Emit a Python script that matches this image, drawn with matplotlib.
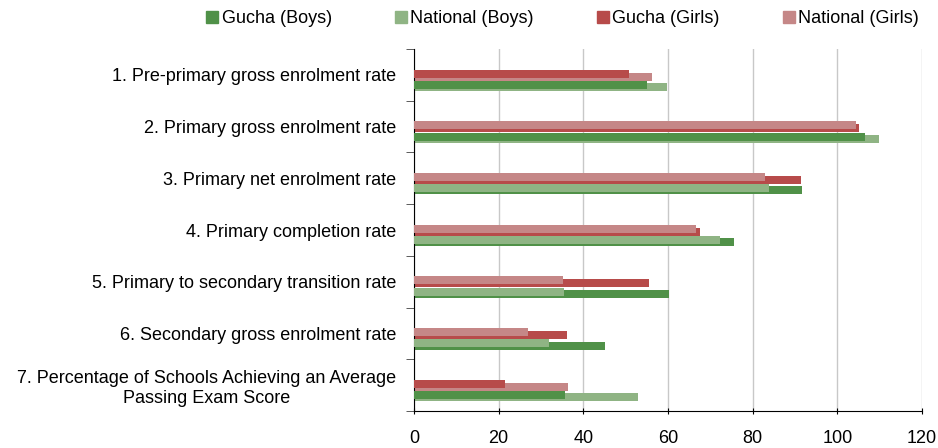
import matplotlib.pyplot as plt
import numpy as np
from matplotlib.patches import Patch

plt.rcParams["font.family"] = ["Liberation Sans", "DejaVu Sans"]

categories = [
    "1. Pre-primary gross enrolment rate",
    "2. Primary gross enrolment rate",
    "3. Primary net enrolment rate",
    "4. Primary completion rate",
    "5. Primary to secondary transition rate",
    "6. Secondary gross enrolment rate",
    "7. Percentage of Schools Achieving an Average\nPassing Exam Score",
]
gucha_boys = [55.1, 106.5, 91.7, 75.7, 60.3, 45.1, 35.7]
national_boys = [59.8, 109.8, 83.9, 72.4, 35.5, 31.9, 53.0]
gucha_girls = [50.8, 105.1, 91.5, 67.6, 55.6, 36.2, 21.6]
national_girls = [56.2, 104.4, 82.8, 66.7, 35.2, 27.0, 36.4]
xticks = [0, 20, 40, 60, 80, 100, 120]

c_gb, c_nb = "#509148", "#8fb484"
c_gg, c_ng = "#b74b4a", "#c58787"

fig = plt.figure(figsize=(9.38, 4.48), dpi=100)
ax = fig.add_axes([414 / 938, 37 / 448, 508 / 938, 362 / 448])

y = np.arange(len(categories))
h = 0.155


def draw_pair(local, national, c_local, c_nat, up, down):
    local = np.array(local)
    national = np.array(national)
    # the shorter bar of each pair sits higher and is drawn in front
    local_short = local <= national
    y_local = y + np.where(local_short, up, down)
    y_nat = y + np.where(local_short, down, up)
    for i in range(len(y)):
        z_local = 3 if local_short[i] else 2
        ax.barh(y_local[i], local[i], height=h, color=c_local, zorder=z_local)
        ax.barh(y_nat[i], national[i], height=h, color=c_nat, zorder=5 - z_local)


draw_pair(gucha_girls, national_girls, c_gg, c_ng, -0.025, 0.033)
draw_pair(gucha_boys, national_boys, c_gb, c_nb, 0.193, 0.236)

ax.set_xlim(0, 120)
ax.set_ylim(len(categories) - 0.5, -0.5)
ax.set_xticks(xticks)
ax.set_yticks(y)
ax.set_yticklabels(categories, ha="right", multialignment="center")
ax.set_yticks(np.arange(len(categories) + 1) - 0.5, minor=True)
ax.tick_params(axis="y", which="major", length=0, pad=13, labelsize=13, colors="#000000")
ax.tick_params(axis="y", which="minor", length=6, direction="out", color="#404040")
ax.tick_params(axis="x", length=5, direction="inout", labelsize=13, pad=11)
ax.grid(True, axis="x", color="#c8c8c8", linewidth=1, zorder=0)
ax.set_axisbelow(True)
for s in ["top", "right"]:
    ax.spines[s].set_visible(False)
ax.spines["left"].set_color("#000000")
ax.spines["bottom"].set_color("#000000")

handles = [
    Patch(color=c_gb, label="Gucha (Boys)"),
    Patch(color=c_nb, label="National (Boys)"),
    Patch(color=c_gg, label="Gucha (Girls)"),
    Patch(color=c_ng, label="National (Girls)"),
]
fig.legend(handles=handles, loc="center", bbox_to_anchor=(0.6, 0.958), ncol=4,
           frameon=False, fontsize=13, handlelength=0.65, handleheight=0.65,
           handletextpad=0.2, columnspacing=3.5)

fig.savefig("out.png", dpi=100)
